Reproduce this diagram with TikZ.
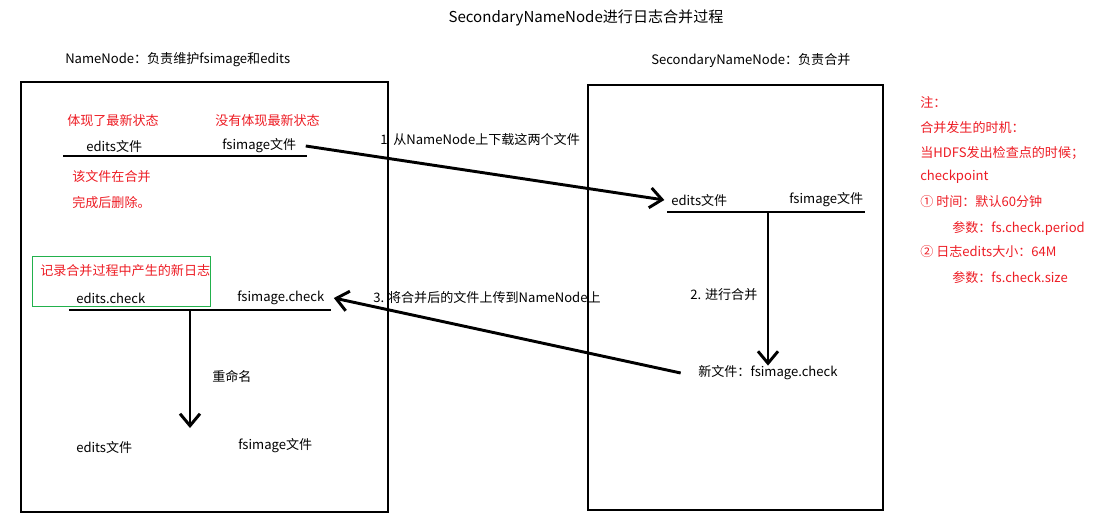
\documentclass[tikz,border=0pt]{standalone}
\usepackage{fontspec}
\setmainfont{Noto Sans CJK SC}
\usetikzlibrary{arrows.meta}
\definecolor{notered}{RGB}{237,28,36}
\definecolor{boxgreen}{RGB}{34,177,76}

\begin{document}
\begin{tikzpicture}[x=0.75pt, y=-0.75pt,
      every node/.style={font=\fontsize{9.8pt}{11pt}\selectfont, inner sep=0pt},
      txt/.style={anchor=west},
      note/.style={anchor=west, text=notered},
      frame/.style={draw, line width=2.2pt},
      bar/.style={line width=2.2pt},
      flow/.style={line width=2.2pt, -{Straight Barb[length=9pt,width=15pt]}}]
    \useasboundingbox (0,0) rectangle (1106,528);

    \node (title) at (586,18) {\fontsize{11.3pt}{13pt}\selectfont SecondaryNameNode进行日志合并过程};
    \node[txt] (nnTitle) at (65,60) {NameNode：负责维护fsimage和edits};
    \node[txt] (snnTitle) at (651,61) {SecondaryNameNode：负责合并};

    \draw[frame] (21,82) rectangle (388,512);
    \draw[frame] (588,85) rectangle (883,510);

    \node[note] (latest) at (67,121) {体现了最新状态};
    \node[note] (notLatest) at (215,121) {没有体现最新状态};
    \node[txt] (editsL) at (86,146) {edits文件};
    \node[txt] (fsimgL) at (222,146) {fsimage文件};
    \coordinate (barLa) at (63,156);
    \coordinate (barLb) at (307,156);
    \draw[bar] (barLa) -- (barLb);
    \node[note] (delA) at (72,177) {该文件在合并};
    \node[note] (delB) at (72,203) {完成后删除。};

    \node[txt] (editsR) at (671,200) {edits文件};
    \node[txt] (fsimgR) at (789,200) {fsimage文件};
    \coordinate (barRa) at (667,212);
    \coordinate (barRb) at (865,212);
    \draw[bar] (barRa) -- (barRb);
    \coordinate (mergeTop) at (768,212);
    \node[txt] (mergeLbl) at (690,295) {2. 进行合并};
    \node[txt] (newFile) at (698,373) {新文件：fsimage.check};

    \draw[boxgreen, line width=0.6pt] (32,256) rectangle (210,306);
    \node[note] (newLog) at (40,271) {记录合并过程中产生的新日志};
    \node[txt] (editsChk) at (76,298) {edits.check};
    \node[txt] (fsChkL) at (237,298) {fsimage.check};
    \coordinate (barCa) at (69,310);
    \coordinate (barCb) at (331,310);
    \draw[bar] (barCa) -- (barCb);
    \coordinate (renTop) at (190,310);
    \coordinate (renEnd) at (190,428);
    \node[txt] (renLbl) at (212,376) {重命名};
    \node[txt] (editsNew) at (76,447) {edits文件};
    \node[txt] (fsimgNew) at (238,446) {fsimage文件};

    \node[txt] (getLbl) at (380,140) {1\ \ 从NameNode上下载这两个文件};
    \node[txt] (putLbl) at (373,298) {3. 将合并后的文件上传到NameNode上};

    \draw[flow] ([xshift=7pt]fsimgL.east) -- ([xshift=-5pt]editsR.west);
    \draw[flow] (mergeTop) -- (mergeTop |- newFile.north);
    \draw[flow] ([xshift=-13pt]newFile.west) -- ([xshift=7pt]fsChkL.east);
    \draw[flow] (renTop) -- (renEnd);

    \node[note] (n1) at (920,102) {注：};
    \node[note] (n2) at (920,128) {合并发生的时机：};
    \node[note] (n3) at (920,153) {当HDFS发出检查点的时候；};
    \node[note] (n4) at (920,177) {checkpoint};
    \node[note] (n5) at (920,202) {① 时间：默认60分钟};
    \node[note] (n6) at (952,228) {参数：fs.check.period};
    \node[note] (n7) at (920,252) {② 日志edits大小：64M};
    \node[note] (n8) at (952,278) {参数：fs.check.size};
\end{tikzpicture}
\end{document}
